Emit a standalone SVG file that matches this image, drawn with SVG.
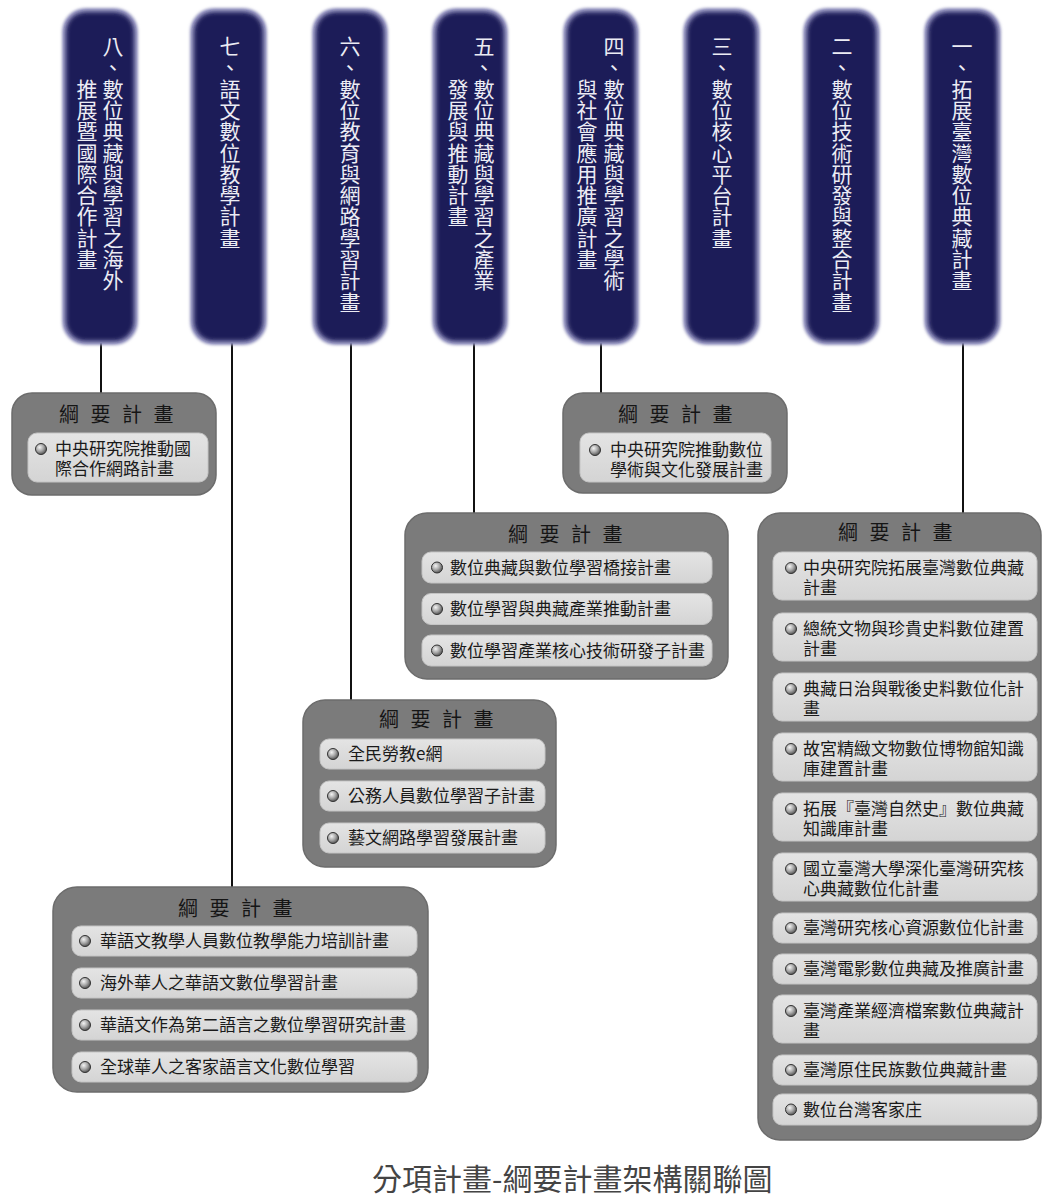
<svg xmlns="http://www.w3.org/2000/svg" width="1042" height="1200" viewBox="0 0 1042 1200">
<style>
text{font-family:'Noto Sans CJK TC','Noto Sans CJK SC','Noto Sans CJK JP',sans-serif}
.glow{fill:#9c9cc6;filter:url(#soft1)}
.pill{fill:#1b1a58;filter:url(#soft2)}
.pt{fill:#ececf4;font-size:21px;text-anchor:middle;dominant-baseline:central}
.outer{fill:#7b7b7b;stroke:#6c6c6c;stroke-width:1.5}
.item{fill:url(#itemg);stroke:#c4c4c4;stroke-width:1}
.ttl{fill:#151515;font-size:20px;text-anchor:middle;letter-spacing:3.5px}
.it{fill:#1a1a1a;font-size:17px}
.bul{fill:url(#bulg);stroke:#333333;stroke-width:1}
.con{stroke:#111;stroke-width:2;fill:none}
.cap{fill:#444444;font-size:30px}
</style>
<defs>
<filter id="soft1" x="-20%" y="-10%" width="140%" height="120%"><feGaussianBlur stdDeviation="1.6"/></filter>
<filter id="soft2" x="-20%" y="-10%" width="140%" height="120%"><feGaussianBlur stdDeviation="2.2"/></filter>
<linearGradient id="itemg" x1="0" y1="0" x2="0" y2="1"><stop offset="0" stop-color="#e4e4e4"/><stop offset="1" stop-color="#d4d4d4"/></linearGradient>
<radialGradient id="bulg" cx="0.38" cy="0.35" r="0.7"><stop offset="0" stop-color="#f4f4f4"/><stop offset="0.5" stop-color="#a8a8a8"/><stop offset="1" stop-color="#4a4a4a"/></radialGradient>
</defs>
<rect width="1042" height="1200" fill="#ffffff"/>

<g id="connectors">
<line class="con" x1="101" y1="343" x2="101" y2="394"/>
<line class="con" x1="232" y1="343" x2="232" y2="888"/>
<line class="con" x1="351" y1="343" x2="351" y2="701"/>
<line class="con" x1="474" y1="343" x2="474" y2="514"/>
<line class="con" x1="601" y1="343" x2="601" y2="394"/>
<line class="con" x1="963" y1="343" x2="963" y2="514"/>
</g>

<g id="p8">
<rect class="glow" x="62" y="8" width="76" height="337" rx="24"/>
<rect class="pill" x="66" y="12" width="68" height="329" rx="20"/>
<text class="pt" x="113 113 113 113 113 113 113 113 113 113 113 113" y="45 66.3 87.6 108.9 130.2 151.5 172.8 194.1 215.4 236.7 258 279.3">八、數位典藏與學習之海外</text>
<text class="pt" x="87 87 87 87 87 87 87 87 87" y="87.6 108.9 130.2 151.5 172.8 194.1 215.4 236.7 258">推展暨國際合作計畫</text>
</g>
<g id="p7">
<rect class="glow" x="190" y="8" width="77" height="337" rx="24"/>
<rect class="pill" x="194" y="12" width="69" height="329" rx="20"/>
<text class="pt" x="230 230 230 230 230 230 230 230 230 230" y="45 66.3 87.6 108.9 130.2 151.5 172.8 194.1 215.4 236.7">七、語文數位教學計畫</text>
</g>
<g id="p6">
<rect class="glow" x="312" y="8" width="76" height="337" rx="24"/>
<rect class="pill" x="316" y="12" width="68" height="329" rx="20"/>
<text class="pt" x="350 350 350 350 350 350 350 350 350 350 350 350 350" y="45 66.3 87.6 108.9 130.2 151.5 172.8 194.1 215.4 236.7 258 279.3 300.6">六、數位教育與網路學習計畫</text>
</g>
<g id="p5">
<rect class="glow" x="432" y="8" width="76" height="337" rx="24"/>
<rect class="pill" x="436" y="12" width="68" height="329" rx="20"/>
<text class="pt" x="484 484 484 484 484 484 484 484 484 484 484 484" y="45 66.3 87.6 108.9 130.2 151.5 172.8 194.1 215.4 236.7 258 279.3">五、數位典藏與學習之產業</text>
<text class="pt" x="458 458 458 458 458 458 458" y="87.6 108.9 130.2 151.5 172.8 194.1 215.4">發展與推動計畫</text>
</g>
<g id="p4">
<rect class="glow" x="563" y="8" width="76" height="337" rx="24"/>
<rect class="pill" x="567" y="12" width="68" height="329" rx="20"/>
<text class="pt" x="614 614 614 614 614 614 614 614 614 614 614 614" y="45 66.3 87.6 108.9 130.2 151.5 172.8 194.1 215.4 236.7 258 279.3">四、數位典藏與學習之學術</text>
<text class="pt" x="587 587 587 587 587 587 587 587 587" y="87.6 108.9 130.2 151.5 172.8 194.1 215.4 236.7 258">與社會應用推廣計畫</text>
</g>
<g id="p3">
<rect class="glow" x="683" y="8" width="77" height="337" rx="24"/>
<rect class="pill" x="687" y="12" width="69" height="329" rx="20"/>
<text class="pt" x="722 722 722 722 722 722 722 722 722 722" y="45 66.3 87.6 108.9 130.2 151.5 172.8 194.1 215.4 236.7">三、數位核心平台計畫</text>
</g>
<g id="p2">
<rect class="glow" x="803" y="8" width="77" height="337" rx="24"/>
<rect class="pill" x="807" y="12" width="69" height="329" rx="20"/>
<text class="pt" x="842 842 842 842 842 842 842 842 842 842 842 842 842" y="45 66.3 87.6 108.9 130.2 151.5 172.8 194.1 215.4 236.7 258 279.3 300.6">二、數位技術研發與整合計畫</text>
</g>
<g id="p1">
<rect class="glow" x="924" y="8" width="77" height="337" rx="24"/>
<rect class="pill" x="928" y="12" width="69" height="329" rx="20"/>
<text class="pt" x="962 962 962 962 962 962 962 962 962 962 962 962" y="45 66.3 87.6 108.9 130.2 151.5 172.8 194.1 215.4 236.7 258 279.3">一、拓展臺灣數位典藏計畫</text>
</g>

<g id="b8">
<rect class="outer" x="12" y="393" width="204" height="102" rx="20"/>
<text class="ttl" x="118" y="422">綱 要 計 畫</text>
<rect class="item" x="28" y="433" width="180" height="49" rx="9"/>
<circle class="bul" cx="41" cy="449" r="5.5"/>
<text class="it"><tspan x="55" y="455">中央研究院推動國</tspan><tspan x="55" dy="20">際合作網路計畫</tspan></text>
</g>

<g id="b4">
<rect class="outer" x="563" y="393" width="224" height="100" rx="20"/>
<text class="ttl" x="677" y="422">綱 要 計 畫</text>
<rect class="item" x="580" y="433" width="191" height="49" rx="9"/>
<circle class="bul" cx="595" cy="450" r="5.5"/>
<text class="it"><tspan x="610" y="456">中央研究院推動數位</tspan><tspan x="610" dy="20">學術與文化發展計畫</tspan></text>
</g>

<g id="b5">
<rect class="outer" x="405" y="513" width="323" height="166" rx="22"/>
<text class="ttl" x="567" y="542">綱 要 計 畫</text>
<rect class="item" x="422" y="552" width="290" height="31" rx="9"/>
<circle class="bul" cx="437" cy="567.5" r="5.5"/>
<text class="it" x="450" y="573.5">數位典藏與數位學習橋接計畫</text>
<rect class="item" x="422" y="593.5" width="290" height="31" rx="9"/>
<circle class="bul" cx="437" cy="609" r="5.5"/>
<text class="it" x="450" y="615">數位學習與典藏產業推動計畫</text>
<rect class="item" x="422" y="635" width="290" height="31" rx="9"/>
<circle class="bul" cx="437" cy="650.5" r="5.5"/>
<text class="it" x="450" y="656.5">數位學習產業核心技術研發子計畫</text>
</g>

<g id="b6">
<rect class="outer" x="303" y="700" width="253" height="167" rx="22"/>
<text class="ttl" x="438" y="727">綱 要 計 畫</text>
<rect class="item" x="320" y="739" width="225" height="30" rx="9"/>
<circle class="bul" cx="333" cy="754" r="5.5"/>
<text class="it" x="348" y="760">全民勞教e網</text>
<rect class="item" x="320" y="781" width="225" height="30" rx="9"/>
<circle class="bul" cx="333" cy="796" r="5.5"/>
<text class="it" x="348" y="802">公務人員數位學習子計畫</text>
<rect class="item" x="320" y="823" width="225" height="30" rx="9"/>
<circle class="bul" cx="333" cy="838" r="5.5"/>
<text class="it" x="348" y="844">藝文網路學習發展計畫</text>
</g>

<g id="b7">
<rect class="outer" x="53" y="887" width="375" height="205" rx="24"/>
<text class="ttl" x="237" y="916">綱 要 計 畫</text>
<rect class="item" x="72" y="926" width="345" height="30" rx="9"/>
<circle class="bul" cx="85" cy="941" r="5.5"/>
<text class="it" x="100" y="947">華語文教學人員數位教學能力培訓計畫</text>
<rect class="item" x="72" y="968" width="345" height="30" rx="9"/>
<circle class="bul" cx="85" cy="983" r="5.5"/>
<text class="it" x="100" y="989">海外華人之華語文數位學習計畫</text>
<rect class="item" x="72" y="1010" width="345" height="30" rx="9"/>
<circle class="bul" cx="85" cy="1025" r="5.5"/>
<text class="it" x="100" y="1031">華語文作為第二語言之數位學習研究計畫</text>
<rect class="item" x="72" y="1052" width="345" height="30" rx="9"/>
<circle class="bul" cx="85" cy="1067" r="5.5"/>
<text class="it" x="100" y="1073">全球華人之客家語言文化數位學習</text>
</g>

<g id="b1">
<rect class="outer" x="758" y="513" width="283" height="627" rx="22"/>
<text class="ttl" x="897" y="540">綱 要 計 畫</text>
<rect class="item" x="773" y="552" width="264" height="48" rx="9"/>
<circle class="bul" cx="791" cy="568" r="5.5"/>
<text class="it"><tspan x="803" y="574">中央研究院拓展臺灣數位典藏</tspan><tspan x="803" dy="20">計畫</tspan></text>
<rect class="item" x="773" y="613" width="264" height="48" rx="9"/>
<circle class="bul" cx="791" cy="629" r="5.5"/>
<text class="it"><tspan x="803" y="635">總統文物與珍貴史料數位建置</tspan><tspan x="803" dy="20">計畫</tspan></text>
<rect class="item" x="773" y="673" width="264" height="48" rx="9"/>
<circle class="bul" cx="791" cy="689" r="5.5"/>
<text class="it"><tspan x="803" y="695">典藏日治與戰後史料數位化計</tspan><tspan x="803" dy="20">畫</tspan></text>
<rect class="item" x="773" y="733" width="264" height="48" rx="9"/>
<circle class="bul" cx="791" cy="749" r="5.5"/>
<text class="it"><tspan x="803" y="755">故宮精緻文物數位博物館知識</tspan><tspan x="803" dy="20">庫建置計畫</tspan></text>
<rect class="item" x="773" y="793" width="264" height="48" rx="9"/>
<circle class="bul" cx="791" cy="809" r="5.5"/>
<text class="it"><tspan x="803" y="815">拓展『臺灣自然史』數位典藏</tspan><tspan x="803" dy="20">知識庫計畫</tspan></text>
<rect class="item" x="773" y="853" width="264" height="48" rx="9"/>
<circle class="bul" cx="791" cy="869" r="5.5"/>
<text class="it"><tspan x="803" y="875">國立臺灣大學深化臺灣研究核</tspan><tspan x="803" dy="20">心典藏數位化計畫</tspan></text>
<rect class="item" x="773" y="913" width="264" height="30" rx="9"/>
<circle class="bul" cx="791" cy="928" r="5.5"/>
<text class="it" x="803" y="934">臺灣研究核心資源數位化計畫</text>
<rect class="item" x="773" y="954" width="264" height="30" rx="9"/>
<circle class="bul" cx="791" cy="969" r="5.5"/>
<text class="it" x="803" y="975">臺灣電影數位典藏及推廣計畫</text>
<rect class="item" x="773" y="995" width="264" height="48" rx="9"/>
<circle class="bul" cx="791" cy="1011" r="5.5"/>
<text class="it"><tspan x="803" y="1017">臺灣產業經濟檔案數位典藏計</tspan><tspan x="803" dy="20">畫</tspan></text>
<rect class="item" x="773" y="1055" width="264" height="30" rx="9"/>
<circle class="bul" cx="791" cy="1070" r="5.5"/>
<text class="it" x="803" y="1076">臺灣原住民族數位典藏計畫</text>
<rect class="item" x="773" y="1094" width="264" height="31" rx="9"/>
<circle class="bul" cx="791" cy="1109.5" r="5.5"/>
<text class="it" x="803" y="1115.5">數位台灣客家庄</text>
</g>

<text class="cap" x="372" y="1190">分項計畫-綱要計畫架構關聯圖</text>
</svg>
